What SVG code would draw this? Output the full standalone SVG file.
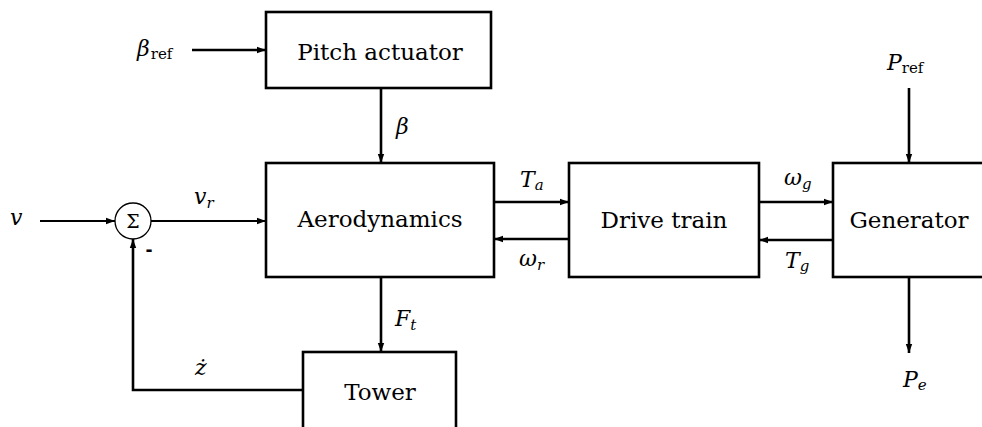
<svg xmlns="http://www.w3.org/2000/svg" width="982" height="427" viewBox="0 0 982 427">
<style>
.box{fill:none;stroke:#000;stroke-width:2.6}
.ln{fill:none;stroke:#000;stroke-width:2.6}
.thin{fill:none;stroke:#000;stroke-width:2}
.lbl{font-family:'DejaVu Serif','Liberation Serif',serif;font-size:23px;fill:#000}
.m{font-family:'DejaVu Serif','Liberation Serif',serif;font-style:italic;font-size:22px;fill:#000}
.sub{font-family:'DejaVu Serif','Liberation Serif',serif;font-style:italic;font-size:15px;fill:#000}
.subr{font-family:'DejaVu Serif','Liberation Serif',serif;font-style:normal;font-size:15px;fill:#000}
</style>
<defs>
<marker id="ah" markerUnits="userSpaceOnUse" markerWidth="10" markerHeight="8" refX="9" refY="4" orient="auto">
<path d="M0,0.8 L9,4 L0,7.2 z" fill="#000"/>
</marker>
</defs>
<g id="pitch">
<rect class="box" x="266" y="12" width="225" height="76"/>
<text class="lbl" x="380" y="60" text-anchor="middle">Pitch actuator</text>
</g>
<g id="aero">
<rect class="box" x="266" y="163" width="228" height="114"/>
<text class="lbl" x="380" y="227" text-anchor="middle">Aerodynamics</text>
</g>
<g id="drive">
<rect class="box" x="569" y="163" width="190" height="114"/>
<text class="lbl" x="664" y="228" text-anchor="middle">Drive train</text>
</g>
<g id="generator">
<rect class="box" x="833" y="163" width="170" height="114"/>
<text class="lbl" x="909" y="228" text-anchor="middle">Generator</text>
</g>
<g id="tower">
<rect class="box" x="303" y="352" width="153" height="90"/>
<text class="lbl" x="380" y="400" text-anchor="middle">Tower</text>
</g>
<g id="sum">
<circle cx="133" cy="221" r="18" fill="none" stroke="#000" stroke-width="1.3"/>
<text x="133" y="228" text-anchor="middle" font-family="'DejaVu Serif','Liberation Serif',serif" font-size="19">Σ</text>
<text x="149" y="256" text-anchor="middle" font-family="'DejaVu Sans',sans-serif" font-size="17" font-weight="bold">-</text>
</g>
<g id="connectors">
<line class="ln" x1="192" y1="50" x2="266" y2="50" marker-end="url(#ah)"/>
<line class="ln" x1="381" y1="88" x2="381" y2="163" marker-end="url(#ah)"/>
<line class="thin" x1="40" y1="221" x2="115" y2="221" marker-end="url(#ah)"/>
<line class="thin" x1="151" y1="221" x2="266" y2="221" marker-end="url(#ah)"/>
<line class="ln" x1="494" y1="202" x2="569" y2="202" marker-end="url(#ah)"/>
<line class="ln" x1="569" y1="239" x2="494" y2="239" marker-end="url(#ah)"/>
<line class="ln" x1="759" y1="202" x2="833" y2="202" marker-end="url(#ah)"/>
<line class="ln" x1="833" y1="240" x2="759" y2="240" marker-end="url(#ah)"/>
<line class="ln" x1="381" y1="277" x2="381" y2="352" marker-end="url(#ah)"/>
<line class="ln" x1="909" y1="88" x2="909" y2="163" marker-end="url(#ah)"/>
<line class="ln" x1="909" y1="277" x2="909" y2="353" marker-end="url(#ah)"/>
<polyline class="ln" points="303,390 133,390 133,239" marker-end="url(#ah)"/>
</g>
<g id="labels">
<text class="m" x="137" y="56">β<tspan class="subr" dx="1" dy="3">ref</tspan></text>
<text class="m" x="887" y="70">P<tspan class="subr" dx="0" dy="3">ref</tspan></text>
<text class="m" x="10" y="225">v</text>
<text class="m" x="194" y="204">v<tspan class="sub" dy="4">r</tspan></text>
<text class="m" x="396" y="134">β</text>
<text class="m" x="520" y="187">T<tspan class="sub" dy="3">a</tspan></text>
<text class="m" x="519" y="266">ω<tspan class="sub" dy="4">r</tspan></text>
<text class="m" x="784" y="185">ω<tspan class="sub" dy="4">g</tspan></text>
<text class="m" x="785" y="268">T<tspan class="sub" dy="3">g</tspan></text>
<text class="m" x="395" y="326">F<tspan class="sub" dy="4">t</tspan></text>
<text class="m" x="195" y="375">ż</text>
<text class="m" x="903" y="387">P<tspan class="sub" dy="3">e</tspan></text>
</g>
</svg>
